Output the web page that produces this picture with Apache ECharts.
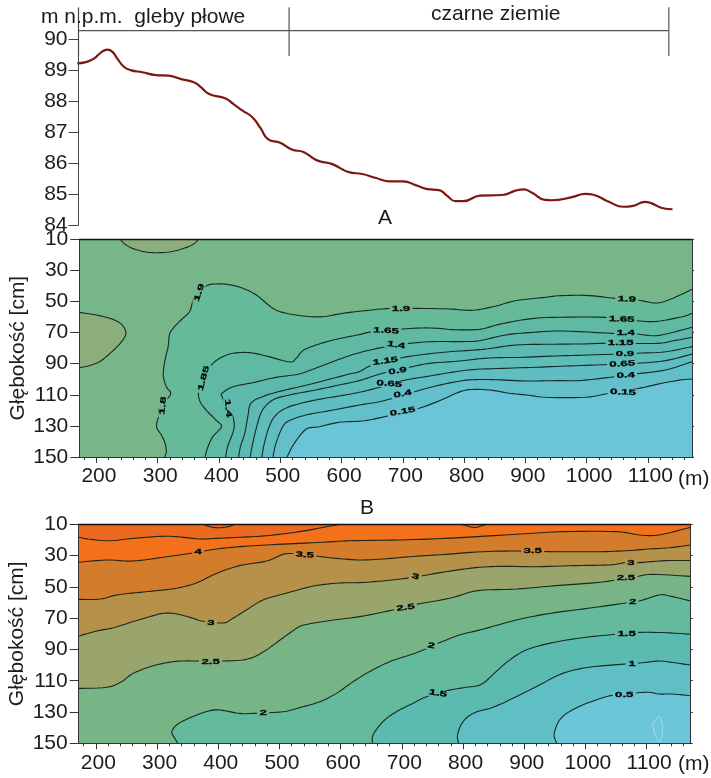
<!DOCTYPE html>
<html><head><meta charset="utf-8">
<script src="https://cdn.jsdelivr.net/npm/echarts@6/dist/echarts.min.js"></script>
<style>html,body{margin:0;padding:0;background:#fff}#c{width:711px;height:778px}</style></head>
<body><div id="c"></div>
<script>
// ---------- data (x in metres, depth in cm, elevation in m a.s.l.) ----------
const xMajor=[200,300,400,500,600,700,800,900,1000,1100];
const depthTicks=[10,30,50,70,90,110,130,150];
const elevTicks=[84,85,86,87,88,89,90];
const elevation=[[170,89.23],[184,89.27],[197,89.38],[208,89.57],[219,89.67],[227,89.61],[235,89.39],[246,89.12],[257,89.01],[276,88.94],[298,88.85],[319,88.83],[341,88.71],[360,88.62],[371,88.47],[385,88.24],[412,88.09],[425,87.91],[439,87.71],[456,87.48],[469,87.13],[481,86.78],[501,86.66],[520,86.44],[539,86.36],[561,86.09],[586,85.97],[613,85.71],[635,85.65],[656,85.53],[681,85.41],[702,85.41],[722,85.29],[741,85.16],[760,85.13],[773,84.95],[787,84.77],[800,84.77],[827,84.95],[863,84.97],[885,85.11],[898,85.15],[912,85.04],[933,84.81],[944,84.80],[977,84.90],[999,85.01],[1012,84.98],[1037,84.75],[1061,84.59],[1077,84.62],[1096,84.75],[1107,84.70],[1124,84.55],[1141,84.51]];
const soilBoundaries=[172,515.5,1135];

const aPatchTop=[[239,10],[246,13],[260,16],[281,18.2],[303,18.6],[325,17.7],[347,15.2],[360,12.6],[366,10]];
const aPatchLeft=[[172,57],[200,58.7],[227,61.5],[242,65.1],[248,70.5],[241,75.8],[224,82.7],[205,88.7],[186,91.5],[172,92.5]];
const a190=[[311,150],[314,146.6],[312,141.2],[306,135.9],[298,130.5],[302,123],[304,117.6],[321,109.7],[314,104.8],[309,97.3],[312,87.6],[317,79],[319,71.5],[325,67.3],[338,61.9],[352,56.5],[357,50.1],[363,45.8],[379,40],[395,38.7],[417,39.2],[439,41.5],[461,45.8],[488,54.4],[510,57.6],[542,59.5],[569,59.8],[596,58],[613,57],[634,56.1],[673,54.6],[716,54.4],[776,54.8],[797,55.5],[819,55.5],[852,52.9],[884,49.5],[928,47.5],[960,46.2],[1004,46.2],[1047,48],[1085,49.2],[1113,51],[1134,49],[1156,45.2],[1172,42.2]];
const a165=[[377,150],[382,143.4],[390,136.9],[404,130.5],[395,126.2],[379,119.8],[368,113.3],[367,104.8],[376,98.3],[385,91.9],[401,86.5],[423,83.3],[450,82.9],[477,85],[515,88.9],[526,86.5],[537,81.6],[558,78],[586,74.8],[607,73],[629,71.3],[651,69.4],[700,67.7],[732,67],[760,67.3],[781,68.1],[825,67.9],[857,64.7],[901,61.5],[944,60.2],[1031,60.2],[1080,62.3],[1113,62.8],[1156,59.8],[1172,57.6]];
const a140=[[411,150],[414,143.4],[424,132.6],[424,126.2],[420,121.9],[412,116.6],[405,111.2],[405,109],[423,104.8],[455,102.2],[493,98.8],[531,96.6],[564,91.9],[596,87.2],[629,82.9],[673,79],[711,76.9],[749,75.8],[797,75.8],[825,75.2],[868,71.5],[906,70],[960,69],[1042,70.5],[1080,70.9],[1113,72],[1145,69.4],[1172,66.6]];
const a115=[[432,150],[435,143.4],[442,134.8],[447,124.1],[452,115.5],[471,111.2],[504,107.3],[542,103.9],[586,99.4],[613,96.6],[629,95.1],[651,90.8],[694,86.5],[727,84.4],[776,82.3],[830,80.8],[884,78],[939,77.5],[993,77.3],[1031,76.9],[1113,76.9],[1140,75.4],[1172,73]];
const a090=[[451,150],[455,141.2],[463,128.4],[471,119.8],[488,113.3],[515,110.1],[558,106.9],[596,103.7],[629,100.9],[667,96.2],[711,92.3],[743,89.8],[792,88.3],[841,86.3],[895,85.9],[950,85],[1004,84.4],[1080,83.3],[1129,82.3],[1172,79]];
const a065=[[470,150],[474,141.2],[482,130.5],[493,123],[515,117.6],[558,113.3],[596,110.8],[629,108.4],[656,105.8],[700,100.9],[738,98.3],[776,95.8],[814,93.8],[863,93],[917,92.3],[966,91.5],[1015,90.8],[1080,89.8],[1129,88],[1172,83.8]];
const a040=[[488,150],[493,141.2],[504,130.5],[515,126.6],[542,123],[586,119.8],[629,116.6],[667,114],[716,108.4],[749,104.8],[787,101.6],[814,100.3],[852,100.3],[901,101.1],[950,100.9],[993,100.7],[1047,98.3],[1080,96.6],[1129,94],[1172,88.7]];
const a015=[[511,150],[523,141.2],[542,132.2],[564,130.5],[596,127.7],[629,127],[645,126.2],[678,123.4],[721,119.4],[760,113.8],[787,109],[808,106.7],[841,106.9],[874,109],[906,110.3],[933,111.6],[998,111.6],[1037,109],[1080,106.3],[1123,102.6],[1156,100.3],[1172,100]];
const aLabels=[["1.9",368,44.3,72],["1.8",308.5,117,85],["1.85",375,99.4,75],["1.4",414.5,118.7,-85],["1.9",697,54.6,0],["1.65",672.6,68.8,-3],["1.4",689,78,-8],["1.15",671.5,88.3,8],["0.9",691.6,94.7,8],["0.65",678,103,-5],["0.4",699.7,109.5,10],["0.15",699.7,120.8,10],["1.9",1065.4,48.6,-3],["1.65",1057.2,61.5,-2],["1.4",1063.8,70.5,0],["1.15",1055.6,76.9,0],["0.9",1062.7,83.5,0],["0.65",1058.3,90.2,3],["0.4",1063.8,97.5,3],["0.15",1059.4,108.4,-3]];

const bPatch1=[[376,10],[386,11.5],[400,12.2],[416,11.5],[427,10]];
const bPatch2=[[797,10],[819,12],[838,10]];
const b450=[[172,18.3],[191,19.6],[223,20.5],[261,19],[305,17.7],[332,17.9],[370,19.4],[397,19],[435,18.3],[479,17.3],[533,14.7],[593,10.4],[598,10]];
const b400=[[172,34.3],[218,32.8],[261,33.5],[316,30.7],[365,27.9],[397,25.8],[435,24.3],[479,23.2],[533,22.2],[588,21.1],[615,20.5],[696,20],[772,19],[887,16.4],[963,14.7],[1050,14.7],[1088,16.8],[1120,16.8],[1172,11.9]];
const b350=[[172,58],[207,57.8],[234,55.2],[272,53.5],[310,52],[337,50.5],[367,47.1],[397,41.4],[435,36.4],[479,33.5],[506,29.2],[525,28.8],[560,30.3],[593,31.8],[631,32.8],[669,32.2],[713,30.7],[772,29.2],[832,27.5],[887,27.1],[952,27.5],[1023,27.5],[1066,26.9],[1104,25.8],[1137,25],[1172,23.2]];
const b300=[[172,81.4],[202,78.2],[229,76.1],[261,72.2],[289,69],[310,66.9],[332,67.3],[359,70.1],[373,71.8],[408,73.1],[424,70.1],[446,64.8],[473,58.4],[506,54.6],[544,50.5],[566,48.8],[598,47.5],[631,47.3],[669,46.2],[715,44.1],[772,40.3],[821,37.7],[860,36.9],[919,37.1],[984,36.4],[1039,36],[1066,34.5],[1088,34.5],[1131,33.2],[1172,33.2]];
const b250=[[172,114.9],[218,114.2],[242,110.6],[261,105.3],[294,100.4],[332,97.6],[370,97.4],[424,97.2],[452,95.7],[476,91],[501,84],[528,76.5],[544,74],[588,71.2],[631,69],[685,64.8],[723,61.2],[778,57.3],[824,52.4],[887,51.4],[952,49.2],[1017,47.3],[1050,45.6],[1082,43.5],[1110,42],[1172,43.3]];
const b200=[[334,150],[329,146.8],[324,143],[329,139.4],[340,136.2],[365,131.9],[386,129.2],[403,128.7],[435,130.9],[457,130.9],[506,129.8],[533,127.2],[566,123.4],[593,118.1],[615,112],[631,108],[647,104.2],[680,97.8],[713,93.6],[737,90],[759,86.1],[794,80.8],[832,77.1],[887,71.2],[941,67],[995,64.2],[1050,61.2],[1088,59],[1120,55.2],[1137,55.8],[1172,59]];
const b150=[[652,150],[653,144.7],[669,136.2],[691,129.8],[718,124.5],[743,119.8],[778,116],[805,114.2],[830,112.3],[854,104.2],[876,96.8],[903,90.4],[941,86.1],[995,82.5],[1050,80.3],[1088,79.1],[1131,79.3],[1172,80.3]];
const b100=[[793,150],[791,144.7],[800,136.2],[819,130.4],[849,127],[887,120.2],[925,112.7],[963,105.3],[1006,101.4],[1066,99.3],[1093,98.5],[1120,97.4],[1142,98.3],[1172,100]];
const b050=[[953,150],[949,143.6],[960,134],[984,127.6],[1017,122.3],[1047,119.1],[1082,117.8],[1104,117.4],[1120,118.5],[1142,118.5],[1172,119.6]];
const bSmallLoop=[[1120,133],[1110,138.3],[1118,147.9],[1123,147.9],[1126,140.4],[1123,134],[1120,133]];
const bLabels=[["4",367.4,27.9,0],["3.5",541.4,29.6,-3],["3",388,72.7,0],["2.5",387.5,97.8,0],["2",473.4,130.6,0],["3.5",913.8,27.1,0],["3",721.9,43.5,-15],["2.5",706.1,63.3,8],["2",748,87.6,-10],["1.5",758.9,118.1,-10],["3",1074.2,34.5,0],["2.5",1066.1,44.5,0],["2",1077,59.5,0],["1.5",1067.2,80.3,0],["1",1075.9,99.3,0],["0.5",1063.4,119.1,0]];

// ---------- styling / layout ----------
const FONT='"Liberation Sans", Arial, sans-serif', FS=21, INK='#1c1c1c';
const X0=172, X1=1172;
const xMinor=[];for(let v=180;v<1172;v+=20){if(v%100)xMinor.push(v);}
const BR=[[X1,150]], FULL=[[X1,150],[X0,150]], TOPR=[[X1,10],[X1,150],[X0,150]];
const bandsA=[
 {c:aPatchTop,f:'#8bae7c',close:[]},{c:aPatchLeft,f:'#8bae7c',close:[]},
 {c:a190,f:'#65ba9a',close:BR},{c:a165,f:'#5fb9a3',close:BR},{c:a140,f:'#5cb9ab',close:BR},{c:a115,f:'#5dbab2',close:BR},
 {c:a090,f:'#5ebcb9',close:BR},{c:a065,f:'#60bec2',close:BR},{c:a040,f:'#63c0cb',close:BR},{c:a015,f:'#6bc5d8',close:BR}];
const bandsB=[
 {c:b450,f:'#f2711a',close:TOPR},{c:bPatch1,f:'#ec6a20',close:[]},{c:bPatch2,f:'#ec6a20',close:[]},
 {c:b400,f:'#d37d2c',close:FULL},{c:b350,f:'#b5914a',close:FULL},{c:b300,f:'#9aa56c',close:FULL},{c:b250,f:'#78b586',close:FULL},
 {c:b200,f:'#63ba9c',close:BR},{c:b150,f:'#5cbbb0',close:BR},{c:b100,f:'#60bec5',close:BR},{c:b050,f:'#6cc6da',close:BR}];
const labelBgA={"1.9":'#6eb890',"1.8":'#6eb890',"1.85":'#62b99e',"1.65":'#62b99e',"1.4":'#5db9a7',"1.15":'#5cbaae',"0.9":'#5dbbb5',"0.65":'#5fbdbd',"0.4":'#61bfc6',"0.15":'#67c2d1'};
const labelBgB={"4":'#e0772a',"3.5":'#c4873b',"3":'#a89b5a',"2.5":'#89ad79',"2":'#6db891',"1.5":'#60bba6',"1":'#5ebdba',"0.5":'#66c2d0'};

function dense(p){ // display smoothing of a contour, in screen space
  const o=[];const n=p.length;
  for(let i=0;i<n-1;i++){
    const a=p[Math.max(i-1,0)],b=p[i],c=p[i+1],d=p[Math.min(i+2,n-1)];
    for(let k=0;k<6;k++){const t=k/6,t2=t*t,t3=t2*t;
      o.push([0.5*(2*b[0]+(c[0]-a[0])*t+(2*a[0]-5*b[0]+4*c[0]-d[0])*t2+(3*b[0]-a[0]-3*c[0]+d[0])*t3),
              0.5*(2*b[1]+(c[1]-a[1])*t+(2*a[1]-5*b[1]+4*c[1]-d[1])*t2+(3*b[1]-a[1]-3*c[1]+d[1])*t3)]);}
  }
  o.push(p[n-1]);return o;
}
function contourSeries(bands,xi,yi){
  return {type:'custom',xAxisIndex:xi,yAxisIndex:yi,clip:true,silent:true,z:3,animation:false,
    data:bands.map((b,i)=>[b.c[0][0],b.c[0][1],i]),
    renderItem(p,api){
      const b=bands[p.dataIndex];
      const line=dense(b.c.map(q=>api.coord(q)));
      const poly=line.concat(b.close.map(q=>api.coord(q)));
      return {type:'group',children:[
        {type:'polygon',shape:{points:poly},style:{fill:b.f,stroke:null}},
        {type:'polyline',shape:{points:line},style:{fill:null,stroke:'#0d1a14',lineWidth:1.1,opacity:.9}}]};
    }};
}
function loopSeries(pts,xi,yi){
  return {type:'custom',xAxisIndex:xi,yAxisIndex:yi,clip:true,silent:true,z:4,animation:false,data:[pts[0]],
    renderItem(p,api){return {type:'polyline',shape:{points:dense(pts.map(q=>api.coord(q)))},style:{fill:null,stroke:'#a8dde6',lineWidth:1}};}};
}
function labelSeries(lbls,bg,xi,yi){
  return {type:'custom',xAxisIndex:xi,yAxisIndex:yi,clip:false,silent:true,z:5,animation:false,
    data:lbls.map(l=>[l[1],l[2]]),
    renderItem(p,api){
      const l=lbls[p.dataIndex],pt=api.coord([l[1],l[2]]);
      return {type:'text',x:pt[0],y:pt[1],rotation:l[3]*Math.PI/180,scaleX:1.2,scaleY:.7,
        style:{text:l[0],x:0,y:0,align:'center',verticalAlign:'middle',font:'bold 11px '+FONT,fill:'#050505',stroke:'#050505',lineWidth:.4,backgroundColor:bg[l[0]],padding:[0,2]}};
    }};
}
const lab=(extra)=>Object.assign({fontFamily:FONT,fontSize:FS,color:INK},extra);
const plain=v=>String(v);
function panelAxes(gridIdx){
  const common={gridIndex:gridIdx,type:'value',min:X0,max:X1,splitLine:{show:false},z:6};
  const cy={gridIndex:gridIdx,type:'value',min:10,max:150,inverse:true,splitLine:{show:false},z:6};
  return {
    x:[Object.assign({},common,{position:'bottom',axisLine:{show:true,onZero:false,lineStyle:{color:'#333',width:1}},
        axisTick:{show:true,length:6,customValues:xMajor,lineStyle:{color:'#333'}},
        axisLabel:{show:true,customValues:xMajor,formatter:plain,margin:9,padding:[0,0,0,5],fontFamily:FONT,fontSize:FS,color:INK}}),
       Object.assign({},common,{position:'bottom',axisLine:{show:false,onZero:false},axisTick:{show:true,length:3,customValues:xMinor,lineStyle:{color:'#333'}},axisLabel:{show:false}}),
       Object.assign({},common,{position:'top',axisLine:{show:true,onZero:false,lineStyle:{color:'#111',width:1.4}},axisTick:{show:false},axisLabel:{show:false}})],
    y:[Object.assign({},cy,{position:'left',axisLine:{show:true,onZero:false,lineStyle:{color:'#333'}},
        axisTick:{show:true,length:9,customValues:depthTicks,lineStyle:{color:'#333'}},
        axisLabel:{show:true,customValues:depthTicks,formatter:plain,margin:11,fontFamily:FONT,fontSize:FS,color:INK},
        name:'Głębokość [cm]',nameLocation:'middle',nameGap:51,nameMoveOverlap:false,nameTextStyle:lab()}),
       Object.assign({},cy,{position:'right',axisLine:{show:true,onZero:false,lineStyle:{color:'#333'}},
        axisTick:{show:true,length:2,customValues:depthTicks,lineStyle:{color:'#333'}},axisLabel:{show:false}})]
  };
}
const pa=panelAxes(1),pb=panelAxes(2);
const txt=(text,left,top)=>({text,left,top,padding:0,textStyle:{fontFamily:FONT,fontSize:FS,fontWeight:'normal',color:INK}});

const option={
  animation:false,backgroundColor:'#fff',
  title:[txt('m n.p.m.  gleby płowe',41,7),txt('czarne ziemie',431,4),txt('A',378,208),txt('B',360,498),txt('(m)',678,469),txt('(m)',678,754)],
  grid:[
    {left:78.5,width:613,top:8.6,height:216.4,outerBoundsMode:'none'},
    {left:79.3,width:612.7,top:239.3,height:217.7,show:true,backgroundColor:'#76b688',borderWidth:0,outerBoundsMode:'none'},
    {left:78.7,width:612,top:524.3,height:219,show:true,backgroundColor:'#ec6a20',borderWidth:0,outerBoundsMode:'none'}
  ],
  xAxis:[{gridIndex:0,type:'value',min:X0,max:X1,show:false},...pa.x,...pb.x],
  yAxis:[{gridIndex:0,type:'value',min:84,max:91,position:'left',splitLine:{show:false},z:6,
          axisLine:{show:true,onZero:false,lineStyle:{color:'#444'}},
          axisTick:{show:true,length:10,customValues:elevTicks,lineStyle:{color:'#444'}},
          axisLabel:{show:true,customValues:elevTicks,formatter:plain,margin:11,fontFamily:FONT,fontSize:FS,color:INK}},
         ...pa.y,...pb.y],
  series:[
    {type:'line',xAxisIndex:0,yAxisIndex:0,data:elevation,smooth:.5,showSymbol:false,clip:false,z:4,lineStyle:{color:'#7d1712',width:2.2},animation:false},
    {type:'line',xAxisIndex:0,yAxisIndex:0,data:soilBoundaries.map(x=>[x,90.29]),showSymbol:false,clip:false,z:3,lineStyle:{color:'#555',width:1.2},animation:false},
    ...soilBoundaries.map(x=>({type:'line',xAxisIndex:0,yAxisIndex:0,data:[[x,91.04],[x,89.47]],showSymbol:false,clip:false,z:3,lineStyle:{color:'#555',width:1.2},animation:false})),
    contourSeries(bandsA,1,1),labelSeries(aLabels,labelBgA,1,1),
    contourSeries(bandsB,4,3),loopSeries(bSmallLoop,4,3),labelSeries(bLabels,labelBgB,4,3)
  ]
};
echarts.init(document.getElementById('c'),null,{renderer:'canvas'}).setOption(option);
</script></body></html>
